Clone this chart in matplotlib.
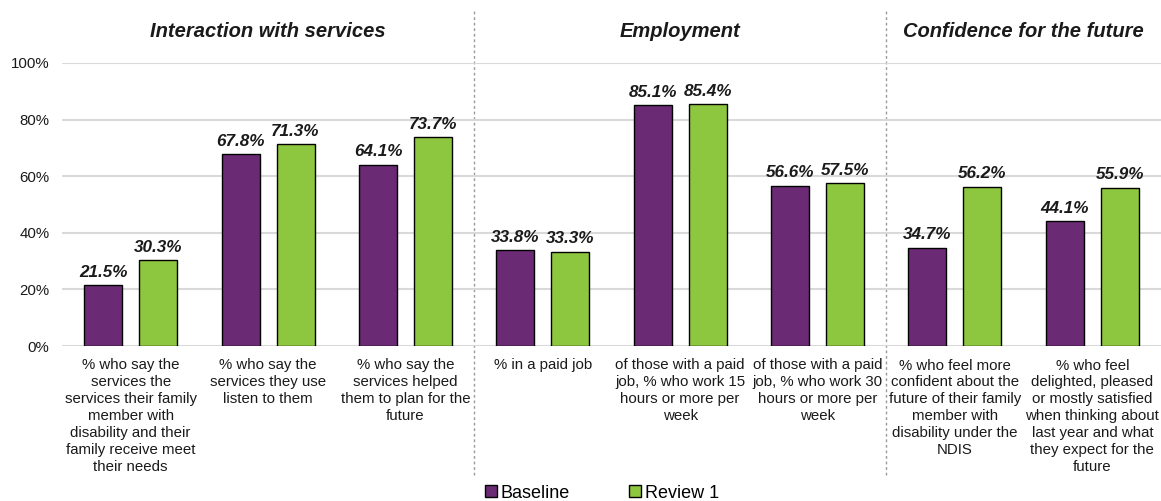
import matplotlib
matplotlib.use("Agg")
import matplotlib.pyplot as plt
import numpy as np

plt.rcParams['font.family'] = ['Liberation Sans', 'DejaVu Sans']

# survey results (% of respondents)
categories = [
    "% who say the\nservices the\nservices their family\nmember with\ndisability and their\nfamily receive meet\ntheir needs",
    "% who say the\nservices they use\nlisten to them",
    "% who say the\nservices helped\nthem to plan for the\nfuture",
    "% in a paid job",
    "of those with a paid\njob, % who work 15\nhours or more per\nweek",
    "of those with a paid\njob, % who work 30\nhours or more per\nweek",
    "% who feel more\nconfident about the\nfuture of their family\nmember with\ndisability under the\nNDIS",
    "% who feel\ndelighted, pleased\nor mostly satisfied\nwhen thinking about\nlast year and what\nthey expect for the\nfuture",
]
baseline = [21.5, 67.8, 64.1, 33.8, 85.1, 56.6, 34.7, 44.1]
review1 = [30.3, 71.3, 73.7, 33.3, 85.4, 57.5, 56.2, 55.9]

sections = ["Interaction with services", "Employment", "Confidence for the future"]
section_cats = [[0, 1, 2], [3, 4, 5], [6, 7]]

purple = "#6B2A74"
green = "#8DC63F"

fig = plt.figure(figsize=(11.61, 5.01), dpi=100)
ax = fig.add_axes([62 / 1161, 1 - 346 / 501, 1 - 62 / 1161, 283 / 501])

x = np.arange(len(categories))
w = 0.277
off = 0.2
b1 = ax.bar(x - off, baseline, w, color=purple, edgecolor="black", linewidth=1, label="Baseline", zorder=3)
b2 = ax.bar(x + off, review1, w, color=green, edgecolor="black", linewidth=1, label="Review 1", zorder=3)

for bars, vals in [(b1, baseline), (b2, review1)]:
    for rect, v in zip(bars, vals):
        ax.annotate(f"{v:.1f}%", (rect.get_x() + rect.get_width() / 2, v),
                    xytext=(0, 4), textcoords="offset points", ha="center", va="bottom",
                    fontsize=12.3, fontweight="bold", fontstyle="italic", color="#1a1a1a")

ax.set_xlim(-0.5, len(categories) - 0.5)
ax.set_ylim(0, 100)
ax.set_yticks(np.arange(0, 101, 20))
ax.set_yticklabels([f"{t}%" for t in range(0, 101, 20)], fontsize=10.8, color="#1a1a1a")
ax.set_xticks(x)
ax.set_xticklabels(categories, fontsize=10.8, color="#1a1a1a", linespacing=1.27)
ax.tick_params(axis="both", length=0)
ax.tick_params(axis="y", pad=9)
ax.tick_params(axis="x", pad=9)
ax.grid(axis="y", color="#D9D9D9", linewidth=1.5, zorder=0)
for s in ax.spines.values():
    s.set_visible(False)

# dotted separators between the sections
for xb in [2.5, 5.5]:
    ax.axvline(xb, ymin=-0.455, ymax=1.185, color="#999999", linewidth=1,
               linestyle=(0, (2, 2)), clip_on=False, zorder=1)

for name, idx in zip(sections, section_cats):
    ax.text(np.mean(idx), 111, name, ha="center", va="center", fontsize=14.5,
            fontweight="bold", fontstyle="italic", color="#1a1a1a", clip_on=False)

fig.legend(handles=[b1, b2], loc="center", bbox_to_anchor=(602 / 1161, 1 - 493 / 501),
           ncol=2, frameon=False, fontsize=13, handlelength=0.65, handleheight=0.65,
           handletextpad=0.2, columnspacing=3.3, borderpad=0)

fig.savefig("out.png", dpi=100)
